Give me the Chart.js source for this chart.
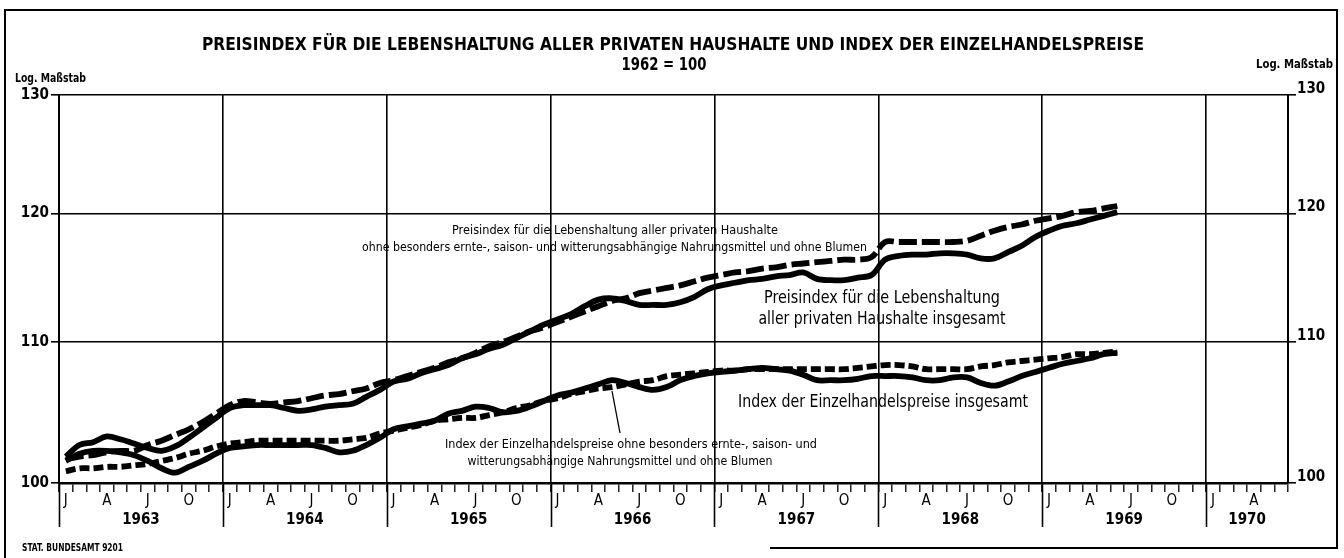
<!DOCTYPE html>
<html>
<head>
<meta charset="utf-8">
<script src="https://cdn.jsdelivr.net/npm/chart.js@4.4.1/dist/chart.umd.min.js"></script>
<style>
html,body{margin:0;padding:0;background:#fff;}
#wrap{width:1344px;height:558px;position:relative;}
</style>
</head>
<body>
<div id="wrap"><canvas id="c"></canvas></div>
<script>
// ---------- DATA ----------
const years = ['1963','1964','1965','1966','1967','1968','1969'];
const monthNames = ['01','02','03','04','05','06','07','08','09','10','11','12'];
// categories: Jan 1963 .. Jun 1969 (monthly)
const categories = [];
years.forEach(y => monthNames.forEach(m => { if (categories.length < 78) categories.push(y + '-' + m); }));

// Preisindex für die Lebenshaltung aller privaten Haushalte insgesamt (solid)
const lebenshaltungInsgesamt = [
 101.8,102.6,102.8,103.2,103.0,102.7,102.4,102.2,102.5,103.1,103.8,104.5,
 105.2,105.4,105.4,105.4,105.2,105.0,105.1,105.3,105.4,105.5,106.0,106.5,
 107.1,107.3,107.7,108.0,108.3,108.8,109.1,109.5,109.8,110.3,110.8,111.3,
 111.7,112.1,112.7,113.2,113.3,113.1,112.8,112.8,112.8,113.0,113.4,114.0,
 114.3,114.5,114.7,114.8,115.0,115.1,115.3,114.8,114.7,114.7,114.9,115.1,
 116.3,116.6,116.7,116.7,116.8,116.8,116.7,116.4,116.4,116.9,117.4,118.1,
 118.6,119.0,119.2,119.5,119.8,120.1
];
// Preisindex ... ohne besonders ernte-, saison- und witterungsabh. Nahrungsmittel (long dashes)
const lebenshaltungOhne = [
 101.6,101.8,101.9,102.1,102.2,102.2,102.6,102.9,103.3,103.7,104.2,104.8,
 105.4,105.7,105.6,105.5,105.6,105.7,105.9,106.1,106.2,106.4,106.6,107.0,
 107.2,107.5,107.8,108.1,108.5,108.8,109.2,109.7,110.0,110.4,110.8,111.1,
 111.5,111.9,112.3,112.7,113.1,113.3,113.7,113.9,114.1,114.3,114.6,114.9,
 115.1,115.3,115.4,115.6,115.7,115.9,116.0,116.1,116.2,116.3,116.3,116.5,
 117.7,117.7,117.7,117.7,117.7,117.7,117.8,118.2,118.6,118.9,119.1,119.4,
 119.6,119.8,120.1,120.2,120.4,120.6
];
// Index der Einzelhandelspreise insgesamt (solid)
const einzelhandelInsgesamt = [
 101.5,102.0,102.2,102.2,102.1,101.9,101.5,101.0,100.7,101.1,101.5,102.0,
 102.4,102.5,102.6,102.6,102.6,102.6,102.6,102.4,102.1,102.2,102.6,103.1,
 103.7,103.9,104.1,104.3,104.8,105.0,105.3,105.2,104.9,105.0,105.3,105.7,
 106.1,106.3,106.6,106.9,107.2,107.0,106.7,106.5,106.7,107.2,107.5,107.7,
 107.8,107.9,108.0,108.1,108.0,107.9,107.6,107.2,107.2,107.2,107.3,107.5,
 107.5,107.5,107.4,107.2,107.2,107.4,107.4,107.0,106.8,107.1,107.5,107.8,
 108.1,108.4,108.6,108.8,109.1,109.2
];
// Index der Einzelhandelspreise ohne besonders ernte-, saison- und witterungsabh. ... (short dashes)
const einzelhandelOhne = [
 100.8,101.0,101.0,101.1,101.1,101.2,101.3,101.5,101.7,102.0,102.2,102.5,
 102.7,102.8,102.9,102.9,102.9,102.9,102.9,102.9,102.9,103.0,103.1,103.4,
 103.6,103.8,104.0,104.3,104.4,104.5,104.5,104.7,104.9,105.2,105.4,105.7,
 105.9,106.2,106.4,106.6,106.7,106.9,107.1,107.2,107.5,107.6,107.7,107.8,
 107.9,107.9,108.0,108.0,108.0,108.0,108.0,108.0,108.0,108.0,108.1,108.2,
 108.3,108.3,108.2,108.0,108.0,108.0,108.0,108.2,108.3,108.5,108.6,108.7,
 108.8,108.9,109.1,109.1,109.2,109.3
];

// tick labels
const yTickValues = [100, 110, 120, 130];
const monthLetters = ['J','','','A','','','J','','','O','',''];
const yearLabels = ['1963','1964','1965','1966','1967','1968','1969','1970'];
const AXIS_MONTHS = 90; // Jan 1963 .. Jun 1970

// ---------- STYLE ----------
const FONT = "'Liberation Sans Narrow','DejaVu Sans Condensed','Arial Narrow','Liberation Sans',sans-serif";
const toPoints = arr => arr.map((v, i) => ({ x: i + 0.5, y: v, c: categories[i] }));

const texts = [
  {t:'PREISINDEX FÜR DIE LEBENSHALTUNG ALLER PRIVATEN HAUSHALTE UND INDEX DER EINZELHANDELSPREISE', cx:673, by:50, size:18, w:'bold', width:942},
  {t:'1962 = 100', cx:664, by:70, size:17, w:'bold', width:85},
  {t:'Log. Maßstab', cx:50.5, by:82, size:13, w:'bold', width:71},
  {t:'Log. Maßstab', cx:1294.5, by:68, size:13, w:'bold', width:77},
  {t:'Preisindex für die Lebenshaltung aller privaten Haushalte', cx:615, by:234, size:12.5, w:'normal', width:326},
  {t:'ohne besonders ernte-, saison- und witterungsabhängige Nahrungsmittel und ohne Blumen', cx:614.5, by:251, size:12.5, w:'normal', width:505},
  {t:'Preisindex für die Lebenshaltung', cx:882, by:303, size:17, w:'normal', width:236},
  {t:'aller privaten Haushalte insgesamt', cx:882, by:324, size:17, w:'normal', width:247},
  {t:'Index der Einzelhandelspreise insgesamt', cx:883, by:407, size:17, w:'normal', width:290},
  {t:'Index der Einzelhandelspreise ohne besonders ernte-, saison- und', cx:631, by:448, size:13, w:'normal', width:372},
  {t:'witterungsabhängige Nahrungsmittel und ohne Blumen', cx:620, by:465, size:13, w:'normal', width:305},
  {t:'STAT. BUNDESAMT 9201', cx:72.5, by:551, size:11, w:'bold', width:101}
];

const decor = {
  id: 'decor',
  beforeDraw(chart) {
    const ctx = chart.ctx;
    ctx.save();
    ctx.fillStyle = '#fff';
    ctx.fillRect(0, 0, chart.width, chart.height);
    ctx.restore();
  },
  afterDraw(chart) {
    const ctx = chart.ctx;
    const xs = chart.scales.x;
    const ca = chart.chartArea;
    ctx.save();
    ctx.strokeStyle = '#000';
    ctx.lineCap = 'butt';
    // outer frame
    ctx.lineWidth = 2;
    ctx.beginPath();
    ctx.moveTo(5, 558); ctx.lineTo(5, 10); ctx.lineTo(1337, 10); ctx.lineTo(1337, 548); ctx.lineTo(770, 548);
    ctx.stroke();
    // year separators extending below the axis
    ctx.lineWidth = 1.6;
    for (let k = 0; k < yearLabels.length; k++) {
      const px = Math.round(xs.getPixelForValue(12 * k)) + 0.5;
      ctx.beginPath(); ctx.moveTo(px, ca.bottom); ctx.lineTo(px, 527); ctx.stroke();
    }
    // pointer line for lower dashed series label
    ctx.lineWidth = 1.3;
    ctx.beginPath(); ctx.moveTo(612, 391); ctx.lineTo(620, 433); ctx.stroke();
    // texts
    ctx.fillStyle = '#000';
    ctx.textAlign = 'center';
    ctx.textBaseline = 'alphabetic';
    texts.forEach(o => {
      ctx.save();
      ctx.font = `${o.w} ${o.size}px ${FONT}`;
      const mw = ctx.measureText(o.t).width;
      const sx = o.width / mw;
      ctx.translate(o.cx, o.by);
      ctx.scale(sx, 1);
      ctx.fillText(o.t, 0, 0);
      ctx.restore();
    });
    ctx.restore();
  }
};

const lineBase = {
  borderColor: '#000', borderWidth: 5.8, pointRadius: 0, pointHoverRadius: 0,
  fill: false, tension: 0.35, borderCapStyle: 'butt', borderJoinStyle: 'round', yAxisID: 'y', xAxisID: 'x'
};

new Chart(document.getElementById('c'), {
  type: 'line',
  data: {
    datasets: [
      Object.assign({}, lineBase, {label: 'Preisindex für die Lebenshaltung aller privaten Haushalte insgesamt', data: toPoints(lebenshaltungInsgesamt), order: 1}),
      Object.assign({}, lineBase, {label: 'Index der Einzelhandelspreise insgesamt', data: toPoints(einzelhandelInsgesamt), order: 2}),
      Object.assign({}, lineBase, {label: 'Preisindex ... ohne besonders ernte-, saison- und witterungsabhängige Nahrungsmittel und ohne Blumen', data: toPoints(lebenshaltungOhne), borderDash: [18, 5], order: 3}),
      Object.assign({}, lineBase, {label: 'Index der Einzelhandelspreise ohne besonders ernte-, saison- und witterungsabhängige Nahrungsmittel und ohne Blumen', data: toPoints(einzelhandelOhne), borderDash: [10, 4], order: 4})
    ]
  },
  options: {
    responsive: true,
    maintainAspectRatio: false,
    animation: false,
    events: [],
    layout: { padding: { top: 95, bottom: 28, left: 0, right: 0 } },
    plugins: { legend: { display: false }, tooltip: { enabled: false }, title: { display: false } },
    scales: {
      x: {
        type: 'linear', position: 'bottom', min: 0, max: AXIS_MONTHS, weight: 0,
        afterBuildTicks: s => { s.ticks = Array.from({length: AXIS_MONTHS + 1}, (_, i) => ({value: i})); },
        afterFit: s => { s.height = 25; },
        grid: {
          drawOnChartArea: true,
          color: c => (c.tick && c.tick.value % 12 === 0) ? '#000' : 'rgba(0,0,0,0)',
          tickColor: '#000', lineWidth: 1.6, tickWidth: 1.3, tickLength: 9
        },
        border: { display: true, color: '#000', width: 2.5 },
        ticks: {
          autoSkip: false, maxRotation: 0, minRotation: 0, labelOffset: 6.8, padding: 0, color: '#000',
          font: { family: FONT, size: 15 },
          callback: (v, i) => i < AXIS_MONTHS ? monthLetters[i % 12] : ''
        }
      },
      x2: {
        type: 'linear', position: 'bottom', min: 0, max: AXIS_MONTHS, weight: 1,
        afterBuildTicks: s => { s.ticks = yearLabels.map((_, k) => ({value: (12 * k + Math.min(12 * k + 12, AXIS_MONTHS)) / 2})); },
        afterFit: s => { s.height = 22; },
        grid: { display: false, drawTicks: false },
        border: { display: false },
        ticks: {
          autoSkip: false, maxRotation: 0, minRotation: 0, padding: 3, color: '#000',
          font: { family: FONT, size: 15, weight: 'bold' },
          callback: (v, i) => yearLabels[i]
        }
      },
      y: {
        type: 'logarithmic', position: 'left', min: 100, max: 130,
        afterBuildTicks: s => { s.ticks = yTickValues.map(v => ({value: v})); },
        afterFit: s => { s.width = 59; },
        grid: { drawOnChartArea: true, color: '#000', tickColor: '#000', lineWidth: 1.6, tickLength: 8 },
        border: { display: true, color: '#000', width: 2 },
        ticks: { autoSkip: false, padding: 2, color: '#000', font: { family: FONT, size: 15, weight: 'bold' }, callback: v => String(v) }
      },
      y2: {
        type: 'logarithmic', position: 'right', min: 100, max: 130,
        afterBuildTicks: s => { s.ticks = yTickValues.map(v => ({value: v})); },
        afterFit: s => { s.width = 56; },
        grid: { drawOnChartArea: false, color: '#000', tickColor: '#000', lineWidth: 1.6, tickLength: 8 },
        border: { display: true, color: '#000', width: 2 },
        ticks: { autoSkip: false, padding: 1, labelOffset: -6, color: '#000', font: { family: FONT, size: 15, weight: 'bold' }, callback: v => String(v) }
      }
    }
  },
  plugins: [decor]
});
</script>
</body>
</html>
